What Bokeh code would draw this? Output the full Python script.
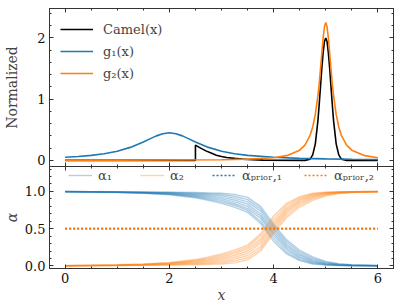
from bokeh.plotting import figure
from bokeh.layouts import column
from bokeh.models import (Legend, LegendItem, SingleIntervalTicker, LinearAxis,
                          Range1d, BasicTickFormatter, NumeralTickFormatter,
                          CustomJSTickFormatter)
from bokeh.embed import file_html
from bokeh.resources import INLINE

# ---------------- data ----------------
camel_x = [0.0, 2.5, 2.5, 2.6, 2.7, 2.8, 2.9, 3.0, 3.1, 3.25, 3.4, 3.6, 3.8, 4.6,
           4.7, 4.75, 4.8, 4.85, 4.875, 4.9, 4.925, 4.95, 4.975, 5.0, 5.025, 5.05,
           5.075, 5.1, 5.125, 5.15, 5.2, 5.25, 5.3, 5.4, 6.0]
camel_y = [0.0, 0.0, 0.25, 0.20, 0.155, 0.12, 0.085, 0.062, 0.047, 0.032, 0.02, 0.01,
           0.004, 0.0, 0.02, 0.09, 0.27, 0.65, 0.92, 1.21, 1.51, 1.76, 1.94, 2.0,
           1.94, 1.76, 1.51, 1.21, 0.92, 0.65, 0.27, 0.09, 0.02, 0.0, 0.0]

g1_x = [0.0, 0.25, 0.5, 0.75, 1.0, 1.25, 1.5, 1.625, 1.75, 1.875, 2.0, 2.125, 2.25,
        2.375, 2.5, 2.75, 3.0, 3.25, 3.5, 4.0, 4.5, 5.0, 5.5, 6.0]
g1_y = [0.05, 0.063, 0.082, 0.109, 0.15, 0.212, 0.30, 0.351, 0.40, 0.436, 0.45, 0.436,
        0.40, 0.351, 0.30, 0.212, 0.15, 0.109, 0.082, 0.05, 0.033, 0.024, 0.018, 0.014]

g2_x = [0.0, 1.0, 2.0, 3.0, 3.5, 4.0, 4.25, 4.5, 4.6, 4.7, 4.75, 4.8, 4.85, 4.875,
        4.9, 4.925, 4.95, 4.975, 5.0, 5.025, 5.05, 5.075, 5.1, 5.125, 5.15, 5.2,
        5.25, 5.3, 5.4, 5.5, 5.75, 6.0]
g2_y = [0.002, 0.003, 0.005, 0.011, 0.02, 0.044, 0.077, 0.167, 0.25, 0.41, 0.545,
        0.75, 1.06, 1.26, 1.5, 1.756, 2.0, 2.18, 2.25, 2.18, 2.0, 1.756, 1.5, 1.26,
        1.06, 0.75, 0.545, 0.41, 0.25, 0.167, 0.077, 0.044]

alpha_x = [0.0, 0.5, 1.0, 1.5, 2.0, 2.5, 2.75, 3.0, 3.25, 3.5, 3.75, 4.0, 4.25, 4.5,
           4.75, 5.0, 5.25, 5.5, 6.0]
alpha1_c1 = [1.000, 0.998, 0.996, 0.993, 0.990, 0.985, 0.980, 0.975, 0.960, 0.920, 0.800, 0.560, 0.350, 0.210, 0.120, 0.060, 0.030, 0.015, 0.005]
alpha1_c2 = [0.999, 0.997, 0.994, 0.990, 0.985, 0.975, 0.968, 0.958, 0.935, 0.890, 0.770, 0.530, 0.320, 0.185, 0.100, 0.050, 0.024, 0.012, 0.004]
alpha1_c3 = [0.999, 0.996, 0.993, 0.988, 0.980, 0.965, 0.955, 0.940, 0.910, 0.860, 0.740, 0.500, 0.290, 0.160, 0.085, 0.040, 0.019, 0.010, 0.003]
alpha1_c4 = [0.998, 0.995, 0.991, 0.985, 0.975, 0.955, 0.940, 0.920, 0.885, 0.830, 0.700, 0.470, 0.265, 0.140, 0.070, 0.032, 0.015, 0.008, 0.002]
alpha1_c5 = [0.998, 0.994, 0.990, 0.983, 0.970, 0.945, 0.925, 0.900, 0.860, 0.800, 0.670, 0.440, 0.240, 0.120, 0.058, 0.026, 0.012, 0.006, 0.002]
alpha1_c6 = [0.997, 0.993, 0.988, 0.980, 0.966, 0.935, 0.910, 0.880, 0.835, 0.770, 0.640, 0.410, 0.215, 0.105, 0.047, 0.020, 0.009, 0.004, 0.001]
alpha1_c7 = [0.996, 0.992, 0.987, 0.978, 0.961, 0.925, 0.895, 0.860, 0.815, 0.745, 0.600, 0.370, 0.185, 0.085, 0.035, 0.015, 0.007, 0.003, 0.001]
alpha1_c8 = [0.995, 0.990, 0.985, 0.975, 0.955, 0.915, 0.880, 0.840, 0.790, 0.720, 0.570, 0.330, 0.160, 0.070, 0.025, 0.010, 0.004, 0.002, 0.000]

alpha2_c1 = [0.000, 0.002, 0.004, 0.007, 0.010, 0.015, 0.020, 0.025, 0.040, 0.080, 0.200, 0.440, 0.650, 0.790, 0.880, 0.940, 0.970, 0.985, 0.995]
alpha2_c2 = [0.001, 0.003, 0.006, 0.010, 0.015, 0.025, 0.032, 0.042, 0.065, 0.110, 0.230, 0.470, 0.680, 0.815, 0.900, 0.950, 0.976, 0.988, 0.996]
alpha2_c3 = [0.001, 0.004, 0.007, 0.012, 0.020, 0.035, 0.045, 0.060, 0.090, 0.140, 0.260, 0.500, 0.710, 0.840, 0.915, 0.960, 0.981, 0.990, 0.997]
alpha2_c4 = [0.002, 0.005, 0.009, 0.015, 0.025, 0.045, 0.060, 0.080, 0.115, 0.170, 0.300, 0.530, 0.735, 0.860, 0.930, 0.968, 0.985, 0.992, 0.998]
alpha2_c5 = [0.002, 0.006, 0.010, 0.017, 0.030, 0.055, 0.075, 0.100, 0.140, 0.200, 0.330, 0.560, 0.760, 0.880, 0.942, 0.974, 0.988, 0.994, 0.998]
alpha2_c6 = [0.003, 0.007, 0.012, 0.020, 0.034, 0.065, 0.090, 0.120, 0.165, 0.230, 0.360, 0.590, 0.785, 0.895, 0.953, 0.980, 0.991, 0.996, 0.999]
alpha2_c7 = [0.004, 0.008, 0.013, 0.022, 0.039, 0.075, 0.105, 0.140, 0.185, 0.255, 0.400, 0.630, 0.815, 0.915, 0.965, 0.985, 0.993, 0.997, 0.999]
alpha2_c8 = [0.005, 0.010, 0.015, 0.025, 0.045, 0.085, 0.120, 0.160, 0.210, 0.280, 0.430, 0.670, 0.840, 0.930, 0.975, 0.990, 0.996, 0.998, 1.000]

prior_x = [0.0, 6.0]
prior1_y = [0.5, 0.5]
prior2_y = [0.5, 0.5]

x_ticks_interval = 2
labels_top = ["Camel(x)", "g\u2081(x)", "g\u2082(x)"]
labels_bottom = ["\u03b1\u2081", "\u03b1\u2082", "\u03b1\u209a\u1d63\u1d62\u2092\u1d63,\u2081",
                 "\u03b1\u209a\u1d63\u1d62\u2092\u1d63,\u2082"]

# ---------------- style ----------------
FONT = "DejaVu Serif"
BLUE = "#1f77b4"
ORANGE = "#ff7f0e"
AX = "#333333"
TICK_FS = "13px"
LAB_FS = "14px"
EMPTY = CustomJSTickFormatter(code="return ''")
OVERLAP = 7


def style_axis(ax, show_labels):
    ax.axis_line_color = AX
    ax.axis_line_width = 1
    ax.major_tick_in = 4
    ax.major_tick_out = 0
    ax.minor_tick_in = 2
    ax.minor_tick_out = 0
    ax.major_tick_line_color = AX
    ax.minor_tick_line_color = AX
    ax.major_label_text_font = FONT
    ax.major_label_text_color = "#111111"
    ax.major_label_text_font_size = TICK_FS
    ax.axis_label_text_font = FONT
    ax.axis_label_text_font_size = LAB_FS
    ax.axis_label_text_font_style = "normal"
    if show_labels:
        ax.major_label_standoff = 4
    else:
        ax.formatter = EMPTY
        ax.major_label_standoff = 0


def build(ylo, yhi, fh, yint, yminor, show_xlabels, yfmt, xr=None):
    xr = xr if xr is not None else Range1d(-0.3, 6.3)
    p = figure(frame_width=344, frame_height=fh, output_backend="svg",
               toolbar_location=None, x_range=xr, y_range=Range1d(ylo, yhi),
               x_axis_location=None, y_axis_location=None,
               min_border_left=43, min_border_right=8, min_border_top=0,
               min_border_bottom=0)
    xt = SingleIntervalTicker(interval=x_ticks_interval, num_minor_ticks=4)
    yt = SingleIntervalTicker(interval=yint, num_minor_ticks=yminor)
    below = LinearAxis(ticker=xt)
    above = LinearAxis(ticker=xt)
    left = LinearAxis(ticker=yt, formatter=yfmt)
    right = LinearAxis(ticker=yt)
    style_axis(below, show_xlabels)
    style_axis(above, False)
    style_axis(left, True)
    style_axis(right, False)
    p.add_layout(below, "below")
    p.add_layout(above, "above")
    p.add_layout(left, "left")
    p.add_layout(right, "right")
    p.xgrid.visible = False
    p.ygrid.visible = False
    p.outline_line_color = AX
    p.background_fill_color = "white"
    p.border_fill_color = "white"
    return p, below, left


# ---------------- top panel ----------------
p1, b1, l1 = build(-0.1, 2.48, 158, 1, 5, False, BasicTickFormatter())
p1.min_border_top = 8
p1.min_border_bottom = OVERLAP
l1.axis_label = "Normalized"
l1.axis_label_standoff = 14

r_c = p1.line(camel_x, camel_y, line_color="black", line_width=1.6)
r_g1 = p1.line(g1_x, g1_y, line_color=BLUE, line_width=1.6)
r_g2 = p1.line(g2_x, g2_y, line_color=ORANGE, line_width=1.6)

leg1 = Legend(items=[LegendItem(label=labels_top[0], renderers=[r_c]),
                     LegendItem(label=labels_top[1], renderers=[r_g1]),
                     LegendItem(label=labels_top[2], renderers=[r_g2])],
              location=(11, 82), glyph_width=33, glyph_height=20, label_height=22,
              spacing=0, margin=0, padding=10, label_standoff=10,
              label_text_font=FONT, label_text_font_size="13px",
              border_line_color=None, background_fill_alpha=0)
p1.add_layout(leg1)

# ---------------- bottom panel ----------------
p2, b2, l2 = build(-0.035, 1.335, 102, 0.5, 5, True, NumeralTickFormatter(format="0.0"),
                   xr=p1.x_range)
p2.margin = (-OVERLAP, 0, 0, 0)
l2.axis_label = "\u03b1"
l2.axis_label_text_font_style = "italic"
l2.axis_label_standoff = 2
b2.axis_label = "x"
b2.axis_label_text_font_style = "italic"
b2.axis_label_standoff = 1

blue_curves = [alpha1_c1, alpha1_c2, alpha1_c3, alpha1_c4, alpha1_c5, alpha1_c6, alpha1_c7, alpha1_c8]
orange_curves = [alpha2_c1, alpha2_c2, alpha2_c3, alpha2_c4, alpha2_c5, alpha2_c6, alpha2_c7, alpha2_c8]
rb = [p2.line(alpha_x, c, line_color=BLUE, line_width=1.4, line_alpha=0.35) for c in blue_curves]
ro = [p2.line(alpha_x, c, line_color=ORANGE, line_width=1.4, line_alpha=0.35) for c in orange_curves]
rp1 = p2.line(prior_x, prior1_y, line_color=BLUE, line_width=1.6, line_dash="2 2")
rp2 = p2.line(prior_x, prior2_y, line_color=ORANGE, line_width=1.6, line_dash="2 2")

leg2 = Legend(items=[LegendItem(label=labels_bottom[0], renderers=[rb[0]]),
                     LegendItem(label=labels_bottom[1], renderers=[ro[0]]),
                     LegendItem(label=labels_bottom[2], renderers=[rp1]),
                     LegendItem(label=labels_bottom[3], renderers=[rp2])],
              location="top_center", orientation="horizontal", glyph_width=24,
              glyph_height=18, label_height=18, spacing=22, margin=0, padding=0,
              label_standoff=6, label_text_font=FONT, label_text_font_size="13px",
              border_line_color=None, background_fill_alpha=0)
p2.add_layout(leg2)

layout = column(p1, p2, spacing=0)
open("out.html", "w").write(file_html(layout, INLINE))
